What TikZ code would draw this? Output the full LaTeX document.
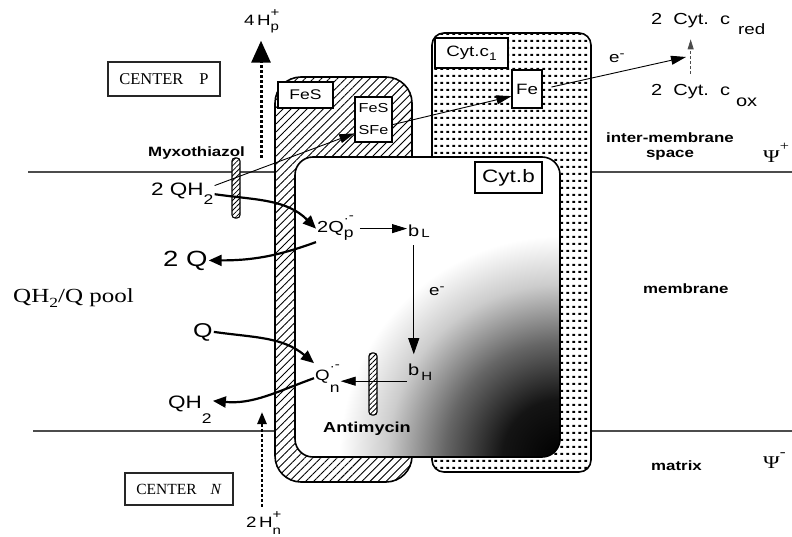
\documentclass[tikz,border=0pt]{standalone}
\usepackage{fontspec}
\setmainfont{Liberation Serif}[FakeStretch=1.25]
\setsansfont{Liberation Sans}[FakeStretch=1.25]
\newfontfamily\boxserif{Liberation Serif}
\usepackage{tikz}
\usetikzlibrary{arrows.meta,patterns,patterns.meta}
\pgfdeclarepatternformonly{cytdots}{\pgfpointorigin}{\pgfpoint{6.2pt}{6.6pt}}{\pgfpoint{6.2pt}{6.6pt}}{%
  \pgfpathrectangle{\pgfpoint{1.6pt}{2.3pt}}{\pgfpoint{3pt}{2pt}}\pgfusepath{fill}}
\pgfdeclareradialshading{cytbdark}{\pgfpoint{0bp}{0bp}}{color(0bp)=(black); color(6bp)=(black!92);
  color(12bp)=(black!60); color(18bp)=(black!20); color(23bp)=(white); color(50bp)=(white)}
\newcommand{\fsz}[1]{\fontsize{#1}{#1}\selectfont}
\newcommand{\txup}[3]{\raisebox{#1}{\fsz{#2}#3}}
\newcommand{\txdn}[3]{\raisebox{-#1}{\fsz{#2}#3}}
\tikzset{
  membrane/.style={draw=black!70, line width=2.4pt},
  protein/.style={draw=black, line width=1.6pt},
  fesfill/.style={preaction={fill=white}, pattern={Lines[angle=45,distance=5.7pt,line width=0.9pt]}},
  cytfill/.style={preaction={fill=white}, pattern=cytdots},
  tagbox/.style={draw=black, line width=1.3pt, fill=white, inner sep=0pt, align=center},
  centerbox/.style={draw=black!85, line width=1.3pt, inner sep=0pt},
  lbl/.style={inner sep=1pt, anchor=base west},
  pathway/.style={line width=2.2pt, -{Triangle[length=13pt,width=11pt]}},
  etrans/.style={line width=0.9pt, -{Triangle[length=15pt,width=9pt]}},
  reduce/.style={draw=black!70, line width=0.7pt, dash pattern=on 3pt off 2pt,
                 shorten <=10pt, shorten >=3pt, -{Triangle[length=10pt,width=6pt]}},
  proton/.style={line width=3pt, dash pattern=on 2.5pt off 2.5pt},
  rod/.style={draw=black, line width=1.1pt, rounded corners=3pt, minimum width=8pt, inner sep=0pt,
              preaction={fill=white}, pattern={Lines[angle=45,distance=3.5pt,line width=0.8pt]}},
}

\begin{document}
\begin{tikzpicture}[x=1pt, y=-1pt]
\useasboundingbox (0,0) rectangle (792,537);

% membrane first, the complex sits on top of it
\draw[membrane] (28,172) -- (792,172);
\draw[membrane] (33,431) -- (792,431);

% the three subunits: FeS hatched, cyt c1 dotted, cyt b shaded
\draw[protein, fesfill, rounded corners=26pt] (275,77) rectangle (412,482);
\draw[protein, cytfill, rounded corners=12pt] (432,33) rectangle (591,472);
\fill[white, rounded corners=18pt] (295,157) rectangle (560,457);
\begin{scope}
  \clip[rounded corners=18pt] (295,157) rectangle (560,457);
  \shade[shading=cytbdark] (560,457) circle (240pt);
\end{scope}
\draw[protein, rounded corners=18pt] (295,157) rectangle (560,457);

% subunit tags
\node[tagbox, minimum width=55pt, minimum height=26pt, font=\sffamily\fsz{14}] (fes) at (305.5,95) {FeS};
\node[tagbox, minimum width=37pt, minimum height=45pt, font=\sffamily\fontsize{13}{22}\selectfont] (fessfe) at (373.5,119.5) {FeS\\SFe};
\node[tagbox, minimum width=73pt, minimum height=30pt, font=\sffamily\fsz{15}] (cytc1) at (471.5,53) {Cyt.c\txdn{4pt}{11}{1}};
\node[tagbox, minimum width=30pt, minimum height=38pt, font=\sffamily\fsz{15}] (fe) at (527,89) {Fe};
\node[tagbox, minimum width=67pt, minimum height=31pt, font=\sffamily\fsz{18}] (cytb) at (508.5,177.5) {Cyt.b};

% inhibitors
\node[rod, minimum height=60pt] (myxbar) at (236,188) {};
\node[rod, minimum height=62pt] (antibar) at (373,384) {};

% centres and side labels
\node[centerbox, minimum width=112pt, minimum height=34pt, font=\boxserif\fsz{16.5}] (cenp) at (164,79) {CENTER\hspace{16pt}P};
\node[centerbox, minimum width=108pt, minimum height=32pt, font=\boxserif\fsz{15.5}] (cenn) at (179,489) {CENTER\hspace{14pt}\textit{N}};
\node[lbl, font=\sffamily\fsz{15}] (hp) at (243,26) {4\,H\rlap{\txup{9pt}{12}{+}}\txdn{5pt}{12}{p}};
\node[lbl, font=\sffamily\fsz{15}] (hn) at (245,527) {2\,H\rlap{\txup{9pt}{12}{+}}\txdn{7pt}{12}{n}};
\node[lbl, font=\sffamily\bfseries\fsz{13.5}] (myx) at (147,157) {Myxothiazol};
\node[lbl, font=\sffamily\bfseries\fsz{14.5}] (antim) at (322,432) {Antimycin};
\node[lbl, font=\rmfamily\fsz{20}] (pool) at (12,302) {QH\txdn{5pt}{14}{2}/Q pool};

% quinone species
\node[lbl, font=\sffamily\fsz{18}] (qh2a) at (150,196) {2 QH\txdn{9pt}{14}{2}};
\node[lbl, font=\sffamily\fsz{22}] (q2) at (162,266) {2 Q};
\node[lbl, font=\sffamily\fsz{20}] (q1) at (192,337) {Q};
\node[lbl, font=\sffamily\fsz{18}] (qh2b) at (167,408) {QH\txdn{15pt}{14}{2}};
\node[lbl, font=\sffamily\fsz{16}] (qp) at (316,233) {2Q\rlap{\txup{10pt}{12}{·\raisebox{3pt}{-}}}\txdn{5pt}{14}{p}};
\node[lbl, font=\sffamily\fsz{15}] (qn) at (314,380) {Q\rlap{\txup{10pt}{12}{·\raisebox{2pt}{-}}}\txdn{12pt}{14}{n}};

% hemes and electrons
\node[lbl, font=\sffamily\fsz{16}] (bl) at (407,237) {b\rlap{\txdn{1pt}{12}{\,L}}};
\node[lbl, font=\sffamily\fsz{16}] (bh) at (407,375) {b\rlap{\txdn{5pt}{12}{\,H}}};
\node[lbl, font=\sffamily\fsz{15}] (em1) at (428,295) {e\txup{5pt}{12}{-}};
\node[lbl, font=\sffamily\fsz{15}] (em2) at (608,63) {e\txup{5pt}{12}{-}};
\node[lbl, font=\sffamily\fsz{16}] (cred) at (650,25) {2\ \ Cyt.\ \ c\rlap{\hspace{8pt}\txdn{10pt}{15}{red}}};
\node[lbl, font=\sffamily\fsz{16}] (cox) at (650,96) {2\ \ Cyt.\ \ c\rlap{\hspace{6pt}\txdn{11pt}{16}{ox}}};

% compartments
\node[inner sep=1pt, align=center, font=\sffamily\bfseries\fontsize{13.5}{15}\selectfont] (ims) at (670,147) {inter-membrane\\space};
\node[lbl, font=\sffamily\bfseries\fsz{13.5}] (memb) at (642,293) {membrane};
\node[lbl, font=\sffamily\bfseries\fsz{13.5}] (matr) at (650,470) {matrix};
\node[lbl, font=\rmfamily\fsz{18}] (psip) at (762,163) {Ψ\txup{12pt}{13}{+}};
\node[lbl, font=\rmfamily\fsz{18}] (psim) at (762,468) {Ψ\txup{12pt}{14}{-}};

% protons
\coordinate (pfoot) at (261,158);
\coordinate (ntip) at (262,412);
\draw[proton, -{Triangle[length=22pt,width=19pt]}, shorten >=6pt] (pfoot) -- (pfoot |- hp.south);
\draw[proton, line width=2.5pt, -{Triangle[length=12pt,width=9pt]}, shorten <=3pt] (hn.north -| ntip) -- (ntip);

% quinone paths through the Q_p and Q_n sites (angles are on the page, y up)
\draw[etrans] (qh2a.15) -- (fessfe.216);
\draw[pathway] (qh2a.east) to[out=-8, in=135] (qp.west);
\draw[pathway] (qp.south west) to[out=200, in=0] (q2.east);
\draw[pathway] (q1.east) to[out=-8, in=140] (qn.north west);
\draw[pathway] (qn.west) to[out=200, in=-5] (qh2b.20);

% electron transfer
\draw[etrans, shorten <=5pt] (qp.east) -- (qp.east -| bl.west);
\draw[etrans, -{Triangle[length=16pt,width=11pt]}] ([yshift=-6pt]bl.south) -- ([yshift=8pt]bh.north);
\draw[etrans] (bh.south west) -- (bh.south west -| qn.east);
\draw[etrans] (fessfe.-15) -- (fe.205);
\coordinate (cytc) at (686,57);
\draw[etrans, shorten <=9pt] (fe.east) -- (cytc);
\draw[reduce] (cox.north) -- (cred.south);
\end{tikzpicture}
\end{document}
